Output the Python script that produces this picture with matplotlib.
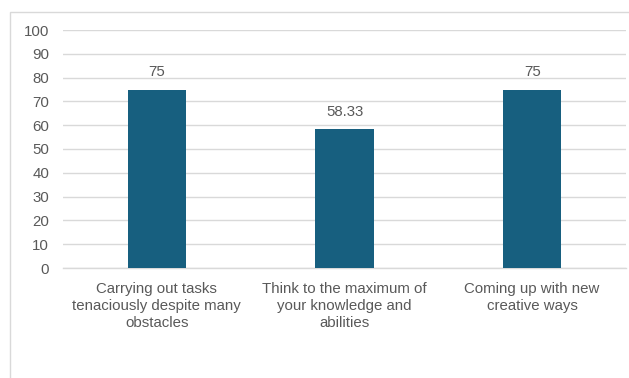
import matplotlib.pyplot as plt
from matplotlib.patches import Rectangle

# skill scores per category
categories = ['Carrying out tasks\ntenaciously despite many\nobstacles',
              'Think to the maximum of\nyour knowledge and\nabilities',
              'Coming up with new\ncreative ways']
scores = [75, 58.33, 75]
score_labels = ['75', '58.33', '75']
yticks = [0, 10, 20, 30, 40, 50, 60, 70, 80, 90, 100]

plt.rcParams['font.family'] = ['Liberation Sans', 'DejaVu Sans']
text_col = '#595959'
fs = 10.8

fig = plt.figure(figsize=(6.29, 3.78), dpi=100)
ax = fig.add_axes([63/629, 1 - 268/378, 563/629, 238/378])

# outer chart frame (only left and top edges fall inside the image)
fig.patches.append(Rectangle((10/629, -0.1), 1.2, 1 - 12/378 + 0.1,
                             transform=fig.transFigure, fill=False,
                             edgecolor='#D9D9D9', linewidth=1.0))

x = range(len(categories))
bars = ax.bar(x, scores, width=0.31, color='#175F7F', zorder=3)
for b, lab in zip(bars, score_labels):
    ax.annotate(lab, (b.get_x() + b.get_width() / 2, b.get_height()),
                xytext=(0, 7.5), textcoords='offset points',
                ha='center', va='bottom', fontsize=fs, color=text_col)

ax.set_xlim(-0.5, 2.5)
ax.set_ylim(0, 100)
ax.set_yticks(yticks)
ax.set_xticks(list(x))
ax.set_xticklabels(categories, linespacing=1.27)
ax.tick_params(axis='y', length=0, pad=10, labelsize=fs, labelcolor=text_col)
ax.tick_params(axis='x', length=0, pad=10, labelsize=fs, labelcolor=text_col)
ax.grid(axis='y', color='#D9D9D9', linewidth=1.0, zorder=0)
for s in ['top', 'right', 'left']:
    ax.spines[s].set_visible(False)
ax.spines['bottom'].set_color('#D9D9D9')
ax.spines['bottom'].set_linewidth(1.0)

fig.savefig('out.png', dpi=100)
